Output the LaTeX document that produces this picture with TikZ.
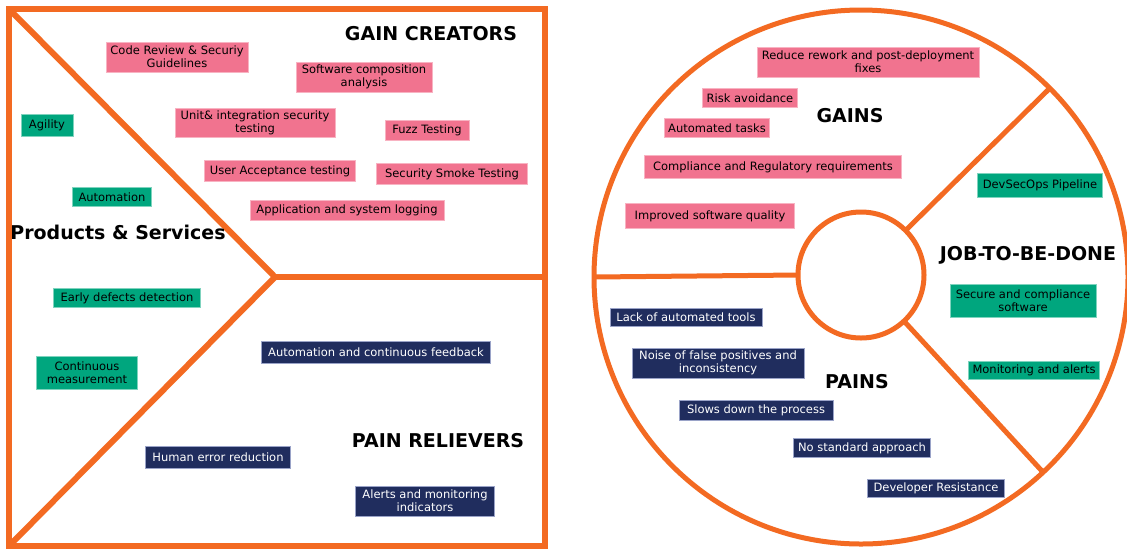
\documentclass[tikz,border=0pt]{standalone}
\usepackage{fontspec}
\setmainfont{DejaVu Sans}
\usetikzlibrary{calc}
\definecolor{vporange}{HTML}{F36A22}
\definecolor{vppink}{HTML}{F1738F}
\definecolor{vppinkb}{HTML}{F8B3C2}
\definecolor{vpgreen}{HTML}{00A67E}
\definecolor{vpgreenb}{HTML}{7FD3BE}
\definecolor{vpnavy}{HTML}{202D5E}
\definecolor{vpnavyb}{HTML}{9AA3C8}
\tikzset{
  frame/.style={draw=vporange, line width=6pt},
  ring/.style={draw=vporange, line width=5pt},
  card/.style={inner xsep=2pt, inner ysep=1pt, align=center, line width=0.8pt,
     font=\fontsize{11.5}{13.3}\selectfont},
  gaincard/.style={card, fill=vppink, draw=vppinkb, text=black},
  prodcard/.style={card, fill=vpgreen, draw=vpgreenb, text=black},
  paincard/.style={card, fill=vpnavy, draw=vpnavyb, text=white},
  title/.style={font=\fontsize{19}{21}\selectfont\bfseries, text=black, inner sep=0pt}
}
\begin{document}
\begin{tikzpicture}[x=1pt, y=-1pt]
\useasboundingbox[fill=white] (0,0) rectangle (1127,550);
% ---------- left square ----------
\coordinate (TL) at (9,9);
\coordinate (BL) at (9,546);
\coordinate (J) at (275,277);
\coordinate (JR) at (545,277);
\draw[frame] (9,9) rectangle (545,546);
\draw[frame, line join=miter] (TL) -- (J) -- (BL);
\draw[frame] (J) -- (JR);
% ---------- right circle ----------
\coordinate (C) at (861,277);
\coordinate (Ci) at (861,275);
\draw[ring] (C) circle[radius=267];
\draw[ring] (Ci) circle[radius=63];
\draw[ring] ($(Ci)+(180:63)$) -- ($(C)+(180:267)$);
\draw[ring] ($(Ci)+(-45:63)$) -- ($(C)+(-45:267)$);
\draw[ring] ($(Ci)+(47:63)$) -- ($(C)+(47:267)$);
% ---------- titles ----------
\node[title] (tgc) at (431,34) {GAIN CREATORS};
\node[title] (tps) at (118,232) {Products \& Services};
\node[title] (tpr) at (438,441) {PAIN RELIEVERS};
\node[title] (tg) at (850,116) {GAINS};
\node[title] (tj) at (1028,255) {JOB-TO-BE-DONE};
\node[title] (tp) at (857,382) {PAINS};
% ---------- gain creators ----------
\node[gaincard, minimum width=142, minimum height=30] (gc1) at (177,57) {Code Review \& Securiy\\Guidelines};
\node[gaincard, minimum width=136, minimum height=30] (gc2) at (364,77) {Software composition\\analysis};
\node[gaincard, minimum width=160, minimum height=29] (gc3) at (255,123) {Unit\& integration security\\testing};
\node[gaincard, minimum width=84, minimum height=20] (gc4) at (427,130) {Fuzz Testing};
\node[gaincard, minimum width=151, minimum height=21] (gc5) at (280,171) {User Acceptance testing};
\node[gaincard, minimum width=151, minimum height=21] (gc6) at (452,174) {Security Smoke Testing};
\node[gaincard, minimum width=194, minimum height=20] (gc7) at (347,210) {Application and system logging};
% ---------- products & services ----------
\node[prodcard, minimum width=52, minimum height=22] (ps1) at (47,125) {Agility};
\node[prodcard, minimum width=79, minimum height=19] (ps2) at (112,197) {Automation};
\node[prodcard, minimum width=147, minimum height=19] (ps3) at (127,298) {Early defects detection};
\node[prodcard, minimum width=101, minimum height=33] (ps4) at (87,373) {Continuous\\measurement};
% ---------- pain relievers ----------
\node[paincard, minimum width=229, minimum height=22] (pr1) at (376,352) {Automation and continuous feedback};
\node[paincard, minimum width=145, minimum height=22] (pr2) at (218,457) {Human error reduction};
\node[paincard, minimum width=139, minimum height=30] (pr3) at (425,501) {Alerts and monitoring\\indicators};
% ---------- gains ----------
\node[gaincard, minimum width=222, minimum height=30] (g1) at (868,62) {Reduce rework and post-deployment\\fixes};
\node[gaincard, minimum width=95, minimum height=19] (g2) at (750,98) {Risk avoidance};
\node[gaincard, minimum width=105, minimum height=19] (g3) at (717,128) {Automated tasks};
\node[gaincard, minimum width=257, minimum height=23] (g4) at (773,167) {Compliance and Regulatory requirements};
\node[gaincard, minimum width=169, minimum height=25] (g5) at (710,216) {Improved software quality};
% ---------- job-to-be-done ----------
\node[prodcard, minimum width=125, minimum height=24] (j1) at (1040,185) {DevSecOps Pipeline};
\node[prodcard, minimum width=146, minimum height=33] (j2) at (1023,301) {Secure and compliance\\software};
\node[prodcard, minimum width=131, minimum height=18] (j3) at (1034,370) {Monitoring and alerts};
% ---------- pains ----------
\node[paincard, minimum width=152, minimum height=18] (p1) at (686,317) {Lack of automated tools};
\node[paincard, minimum width=172, minimum height=30] (p2) at (718,363) {Noise of false positives and\\inconsistency};
\node[paincard, minimum width=154, minimum height=20] (p3) at (756,410) {Slows down the process};
\node[paincard, minimum width=137, minimum height=19] (p4) at (862,448) {No standard approach};
\node[paincard, minimum width=137, minimum height=18] (p5) at (936,488) {Developer Resistance};
\end{tikzpicture}
\end{document}
